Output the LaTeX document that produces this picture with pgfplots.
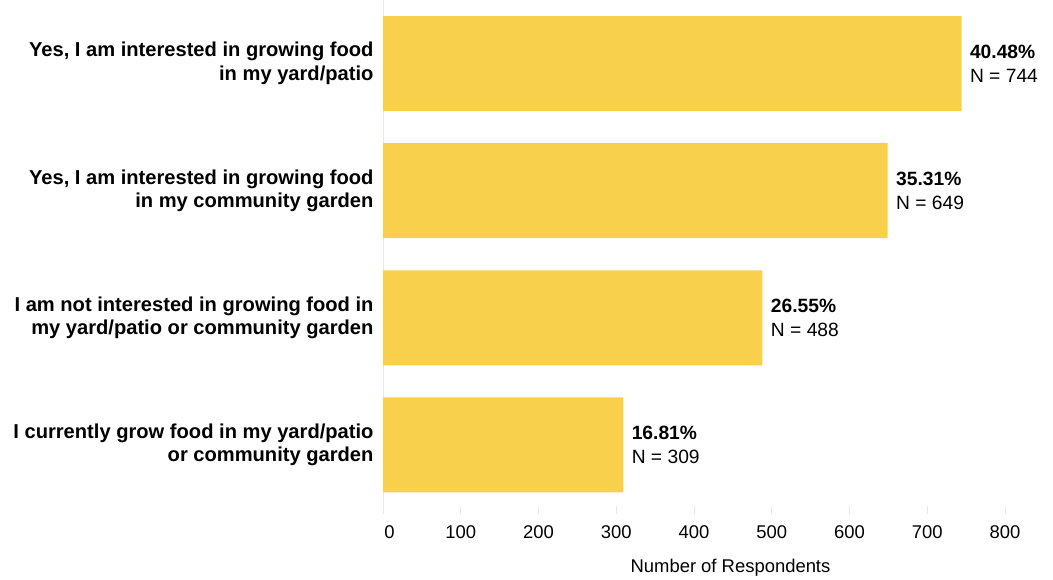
\documentclass[border=0pt]{standalone}
\usepackage{pgfplots}
\usepackage{pgfplotstable}
\pgfplotsset{compat=1.18}
\usepackage{fontspec}
\setmainfont{Liberation Sans}
\definecolor{baryellow}{HTML}{F9D04B}
\definecolor{gridgray}{HTML}{E8E8E8}

\pgfplotstableread{
y n pct
3 744 40.48
2 649 35.31
1 488 26.55
0 309 16.81
}\datatable

\begin{document}
\begin{tikzpicture}
\useasboundingbox (0,0) rectangle (1053bp,580bp);
\begin{axis}[
  at={(383bp,74bp)}, anchor=south west,
  scale only axis,
  width=637.6bp, height=506bp,
  xmin=0, xmax=820,
  ymin=-0.48, ymax=3.5,
  xbar, bar width=95bp,
  xtick={0,100,...,800},
  xticklabels={\hspace{13bp}0,100,200,300,400,500,600,700,800},
  ytick={0,1,2,3},
  yticklabels={{I currently grow food in my yard/patio\\or community garden},
               {I am not interested in growing food in\\my yard/patio or community garden},
               {Yes, I am interested in growing food\\in my community garden},
               {Yes, I am interested in growing food\\in my yard/patio}},
  yticklabel style={align=right, font=\bfseries\fontsize{20.2}{23.8}\selectfont, text=black, xshift=2bp},
  xticklabel style={font=\fontsize{18.5}{22}\selectfont, text=black, yshift=-8bp},
  /pgf/number format/assume math mode=true,
  separate axis lines,
  axis x line*=bottom, axis y line*=left,
  x axis line style={draw=none},
  y axis line style={draw=gridgray, line width=1bp, -},
  xtick align=outside,
  major tick length=8bp,
  xtick style={draw=gridgray, line width=1bp},
  ytick style={draw=none},
  xlabel={Number of Respondents},
  xlabel style={font=\fontsize{18.5}{22}\selectfont, at={(rel axis cs:0.545,0)}, anchor=north, yshift=-50bp},
  point meta=x,
  visualization depends on={\thisrow{pct} \as \pctval},
  nodes near coords={\textbf{\pgfmathprintnumber[fixed,precision=2,fixed zerofill]{\pctval}\%}\\N = \pgfmathprintnumber[fixed,precision=0]{\pgfplotspointmeta}},
  nodes near coords style={align=left, anchor=west, font=\fontsize{19.3}{24.5}\selectfont, text=black, xshift=5bp, /pgf/number format/assume math mode=true},
  clip=false,
]
\addplot[fill=baryellow, draw=none] table[x=n, y=y] {\datatable};
\end{axis}
\end{tikzpicture}
\end{document}
